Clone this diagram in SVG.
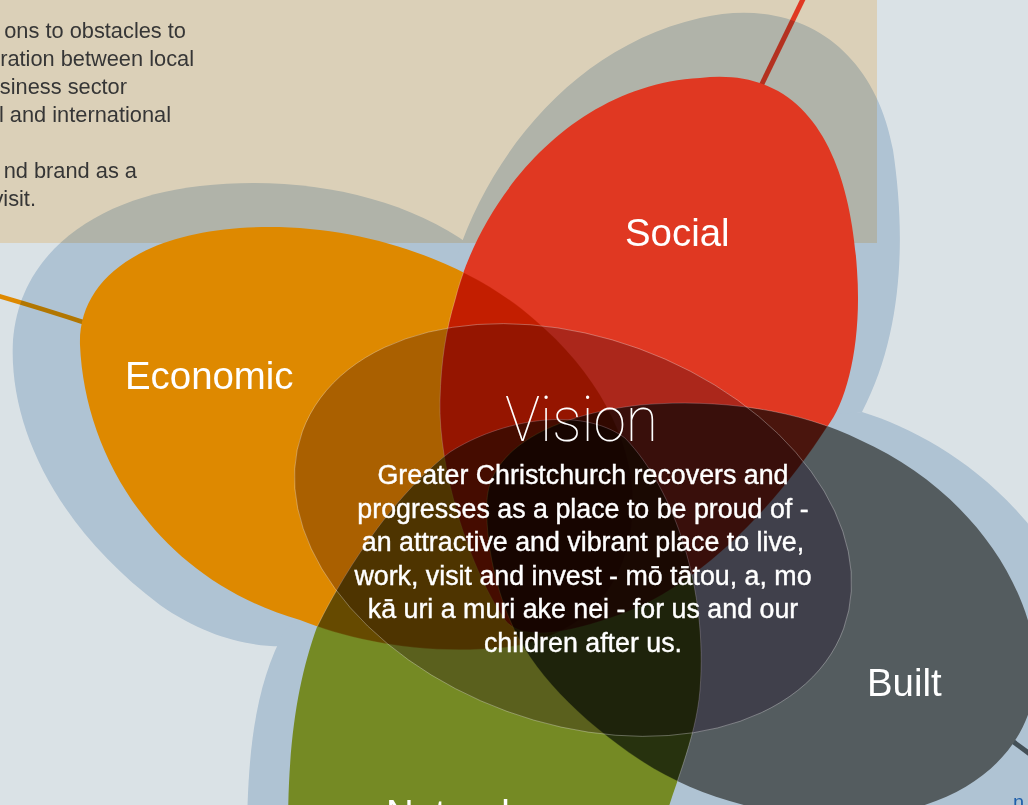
<svg xmlns="http://www.w3.org/2000/svg" xmlns:xlink="http://www.w3.org/1999/xlink" width="1028" height="805" viewBox="0 0 1028 805">
<style>
.mul{mix-blend-mode:multiply}
.seam{fill:none;stroke:#fff;stroke-opacity:.35;stroke-width:.8}
.lbl{font-family:"Liberation Sans",Arial,sans-serif;font-size:38.4px;fill:#fff}
.note{font-family:"Liberation Sans",Arial,sans-serif;font-size:21.8px;fill:#363636;text-anchor:end}
.vp{font-family:"Liberation Sans",Arial,sans-serif;font-size:26.8px;fill:#fff;stroke:#fff;stroke-width:.4;text-anchor:middle}
.vt{font-family:Roboto,Lato,"Open Sans",sans-serif;font-weight:100;font-size:63px;fill:#fff}
.halo{fill:#CDDCEA}
.conn{fill:none}
</style>
<defs>
<path id="pE" d="M80,345 C78,280 140,235 240,228 C350,220 465,258 535,320 C600,375 640,450 632,520 C626,590 580,640 500,648 C420,655 350,640 300,620 C160,580 85,460 80,345 Z"/>
<path id="pS" d="M455,300 C480,200 570,85 700,78 C810,65 850,160 857,270 C862,340 848,400 827,427 C780,500 700,590 610,618 C560,635 520,640 505,620 C470,570 438,470 440,400 C441,360 446,330 455,300 Z"/>
<path id="pB" d="M487,500 C490,450 550,415 640,405 C720,398 800,410 860,440 C950,480 1020,560 1035,650 C1045,730 990,800 880,815 C790,825 700,800 640,760 C580,720 530,670 510,620 C495,585 485,540 487,500 Z"/>
<path id="pN" d="M288,830 C288,740 298,680 317,627 C350,560 400,490 450,452 C500,420 580,405 625,438 C675,490 708,590 700,690 C696,740 672,790 662,830 Z"/>
<ellipse id="eV" cx="573" cy="530" rx="288" ry="193" transform="rotate(20 573 530)"/>
<clipPath id="cE"><use href="#pS"/><use href="#pB"/><use href="#pN"/><use href="#eV"/></clipPath>
<clipPath id="cS"><use href="#pE"/><use href="#pB"/><use href="#pN"/><use href="#eV"/></clipPath>
<clipPath id="cB"><use href="#pE"/><use href="#pS"/><use href="#pN"/><use href="#eV"/></clipPath>
<clipPath id="cN"><use href="#pE"/><use href="#pS"/><use href="#pB"/><use href="#eV"/></clipPath>
</defs>

<rect id="background" width="1028" height="805" fill="#DAE2E6"/>
<rect id="panel" x="0" y="0" width="877" height="243" fill="#DBD0B8"/>
<g id="panel-text">
<text class="note" x="186" y="38">ons to obstacles to</text>
<text class="note" x="194" y="66">ration between local</text>
<text class="note" x="127" y="94">siness sector</text>
<text class="note" x="171" y="122">l and international</text>
<text class="note" x="137" y="178">nd brand as a</text>
<text class="note" x="36" y="206">visit.</text>
</g>

<g id="connectors" class="conn">
<path d="M-5,295 Q40,308 92,325" stroke="#DE8900" stroke-width="4.5"/>
<path d="M805,-5 L758,92" stroke="#E03822" stroke-width="5"/>
<path d="M1000,732 L1045,765" stroke="#545C5F" stroke-width="5"/>
</g>

<g id="halo" class="halo mul">
<path d="M470,245 C400,195 300,175 200,186 C100,197 20,250 13,340 C8,430 60,530 160,605 C210,640 260,650 300,645 L450,450 Z"/>
<path d="M445,300 C470,180 560,50 700,18 C800,-5 875,50 893,150 C905,230 905,330 862,412 L650,450 Z"/>
<path d="M620,830 L640,430 L862,412 C920,430 990,470 1045,545 L1045,830 Z"/>
<path d="M247,830 C248,740 258,680 285,630 L450,500 L690,830 Z"/>
</g>

<g id="flower" style="isolation:isolate">
<g id="economic">
<use href="#pE" fill="#DE8900"/>
<use href="#pE" class="seam" clip-path="url(#cE)"/>
<text class="lbl" x="125" y="389">Economic</text>
</g>
<g id="social">
<use href="#pS" fill="#E03822" class="mul"/>
<use href="#pS" class="seam" clip-path="url(#cS)"/>
<text class="lbl" x="625" y="246">Social</text>
</g>
<g id="built">
<use href="#pB" fill="#545C5F" class="mul"/>
<use href="#pB" class="seam" clip-path="url(#cB)"/>
<text class="lbl" x="867" y="696">Built</text>
</g>
<g id="natural">
<use href="#pN" fill="#758A24" class="mul"/>
<use href="#pN" class="seam" clip-path="url(#cN)"/>
<text class="lbl" x="386" y="827">Natural</text>
</g>
<g id="vision">
<use href="#eV" fill="#C3B2C8" class="mul"/>
<use href="#eV" class="seam"/>
<text class="vt" x="505" y="441" textLength="153" lengthAdjust="spacingAndGlyphs">Vision</text>
<text class="vp" x="583" y="484">Greater Christchurch recovers and</text>
<text class="vp" x="583" y="517.6">progresses as a place to be proud of -</text>
<text class="vp" x="583" y="551.2">an attractive and vibrant place to live,</text>
<text class="vp" x="583" y="584.8">work, visit and invest - mō tātou, a, mo</text>
<text class="vp" x="583" y="618.4">kā uri a muri ake nei - for us and our</text>
<text class="vp" x="583" y="652">children after us.</text>
</g>
</g>
<text id="edge-fragment" x="1013" y="809" font-family="Liberation Sans, Arial, sans-serif" font-size="20" fill="#1F5FAA">n</text>
</svg>
